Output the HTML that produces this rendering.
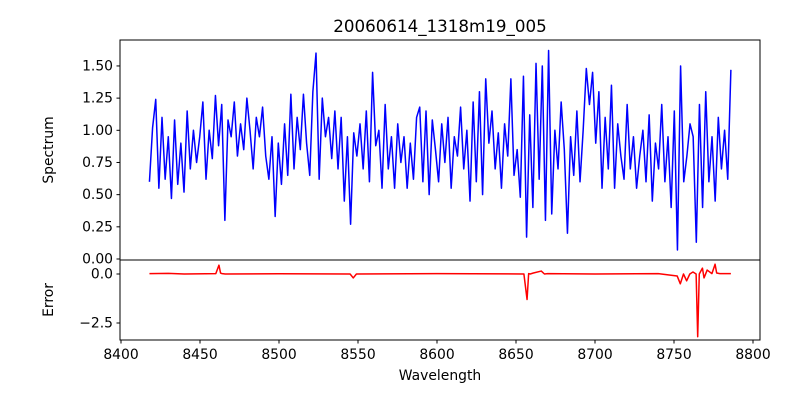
<!DOCTYPE html>
<html><head><meta charset="utf-8"><style>
body{margin:0;background:#fff;}
svg{display:block;font-family:"DejaVu Sans","Liberation Sans",sans-serif;}
</style></head><body>
<svg id="chart" width="800" height="400" viewBox="0 0 800 400" xmlns="http://www.w3.org/2000/svg">
<rect width="800" height="400" fill="#fff"/>
<text x="440" y="32" font-size="16.7" text-anchor="middle">20060614_1318m19_005</text>
<g id="gtop"></g><g id="gbot"></g>
<text x="440" y="380" font-size="13.9" text-anchor="middle">Wavelength</text>
<text transform="translate(53,150) rotate(-90)" font-size="13.9" text-anchor="middle">Spectrum</text>
<text transform="translate(53,300) rotate(-90)" font-size="13.9" text-anchor="middle">Error</text>
</svg>
<script>
const wlStart = 8418, wlEnd = 8786;
const spec = [0.60,1.02,1.24,0.55,1.10,0.62,0.95,0.47,1.08,0.58,
0.90,0.52,1.15,0.70,1.00,0.75,0.95,1.22,0.62,1.00,
0.78,1.27,0.88,1.20,0.30,1.08,0.95,1.22,0.80,1.05,
0.85,1.25,1.00,0.70,1.10,0.95,1.18,0.80,0.62,0.95,
0.33,0.90,0.58,1.05,0.65,1.28,0.70,1.10,0.85,1.28,
0.90,0.65,1.30,1.60,0.62,1.25,0.95,1.10,0.78,1.15,
0.70,1.10,0.45,0.95,0.27,0.98,0.80,1.05,0.70,1.15,
0.60,1.45,0.88,1.00,0.55,1.20,0.70,0.95,0.55,1.05,
0.75,0.95,0.55,0.90,0.62,1.10,1.18,0.60,1.15,0.50,
1.08,0.85,0.60,1.05,0.75,1.10,0.55,0.95,0.80,1.18,
0.70,1.00,0.45,1.22,0.60,1.30,0.50,1.40,0.90,1.15,
0.70,0.98,0.55,1.05,0.80,1.40,0.65,0.85,0.48,1.42,
0.17,1.12,0.40,1.52,0.62,1.50,0.30,1.62,0.35,1.00,
0.70,1.22,0.85,0.20,0.95,0.65,1.15,0.60,1.00,1.48,
1.20,1.45,0.90,1.30,0.55,1.10,0.70,1.35,0.55,1.05,
0.80,0.62,1.20,0.70,0.95,0.55,0.80,1.00,0.60,1.12,
0.45,0.90,0.70,1.20,0.60,0.95,0.40,1.15,0.07,1.50,
0.60,0.80,1.05,0.95,0.13,1.20,0.40,1.30,0.60,0.95,
0.45,1.10,0.70,1.00,0.62,1.47];
const errWl  = [8418,8430,8440,8460,8462,8463,8464,8466,8500,8545,8547,8549,8600,8655,8657,8658,8659,8661,8666,8668,8670,8700,8740,8752,8754,8756,8758,8760,8762,8764,8765,8766,8768,8769,8771,8774,8776,8777,8779,8786];
const errVal = [0.02,0.03,0.0,0.02,0.45,0.05,0.02,0.0,0.01,0.0,-0.2,0.0,0.02,0.0,-1.3,0.02,0.0,0.05,0.15,0.0,0.02,0.0,0.02,-0.1,-0.5,0.0,-0.35,0.0,0.1,0.0,-3.2,0.0,0.3,-0.2,0.2,0.02,0.5,0.05,0.02,0.02];
const xTicks = [8400,8450,8500,8550,8600,8650,8700,8750,8800];
const topTicks = [0,0.25,0.5,0.75,1.0,1.25,1.5];
const topLabels = ["0.00","0.25","0.50","0.75","1.00","1.25","1.50"];
const botTicks = [0,-2.5];
const botLabels = ["0.0","\u22122.5"];

const NS="http://www.w3.org/2000/svg";
const L=120,R=760;
const X=v=>121+(v-8400)*1.58;
const YT=v=>259-v*128.7;
const YB=v=>274-v*19.6;
function mk(tag,attrs,parent){const e=document.createElementNS(NS,tag);for(const k in attrs)e.setAttribute(k,attrs[k]);parent.appendChild(e);return e;}
const gTop=document.getElementById('gtop'), gBot=document.getElementById('gbot');

const n=spec.length;
const step=(wlEnd-wlStart)/(n-1);
let d='';
spec.forEach((v,i)=>{d+=(i?'L':'M')+X(wlStart+i*step).toFixed(2)+','+YT(v).toFixed(2);});
const sl=mk('path',{d:d,fill:'none',stroke:'#0000ff','stroke-width':1.5,'stroke-linejoin':'round'},gTop);


let d2='';
errVal.forEach((v,i)=>{d2+=(i?'L':'M')+X(errWl[i]).toFixed(2)+','+YB(v).toFixed(2);});
const el=mk('path',{d:d2,fill:'none',stroke:'#ff0000','stroke-width':1.5,'stroke-linejoin':'round'},gBot);



const tf=mk('rect',{x:L,y:40,width:R-L,height:220,fill:'none',stroke:'#000','stroke-width':1},gTop);


const bf=mk('rect',{x:L,y:260,width:R-L,height:80,fill:'none',stroke:'#000','stroke-width':1},gBot);



topTicks.forEach((v,i)=>{const y=YT(v);
 mk('line',{x1:L-3.5,x2:L,y1:y,y2:y,stroke:'#000'},gTop);
 const t=mk('text',{x:L-7,y:y+4.5,'font-size':13.9,'text-anchor':'end'},gTop);t.textContent=topLabels[i];
 
 });
botTicks.forEach((v,i)=>{const y=YB(v);
 mk('line',{x1:L-3.5,x2:L,y1:y,y2:y,stroke:'#000'},gBot);
 const t=mk('text',{x:L-7,y:y+4.5,'font-size':13.9,'text-anchor':'end'},gBot);t.textContent=botLabels[i];
 
 });
xTicks.forEach(v=>{const x=X(v);
 mk('line',{x1:x,x2:x,y1:340,y2:343.5,stroke:'#000'},gBot);
 const t=mk('text',{x:x,y:359,'font-size':13.9,'text-anchor':'middle'},gBot);t.textContent=v;
 
 });
</script>
</body></html>
